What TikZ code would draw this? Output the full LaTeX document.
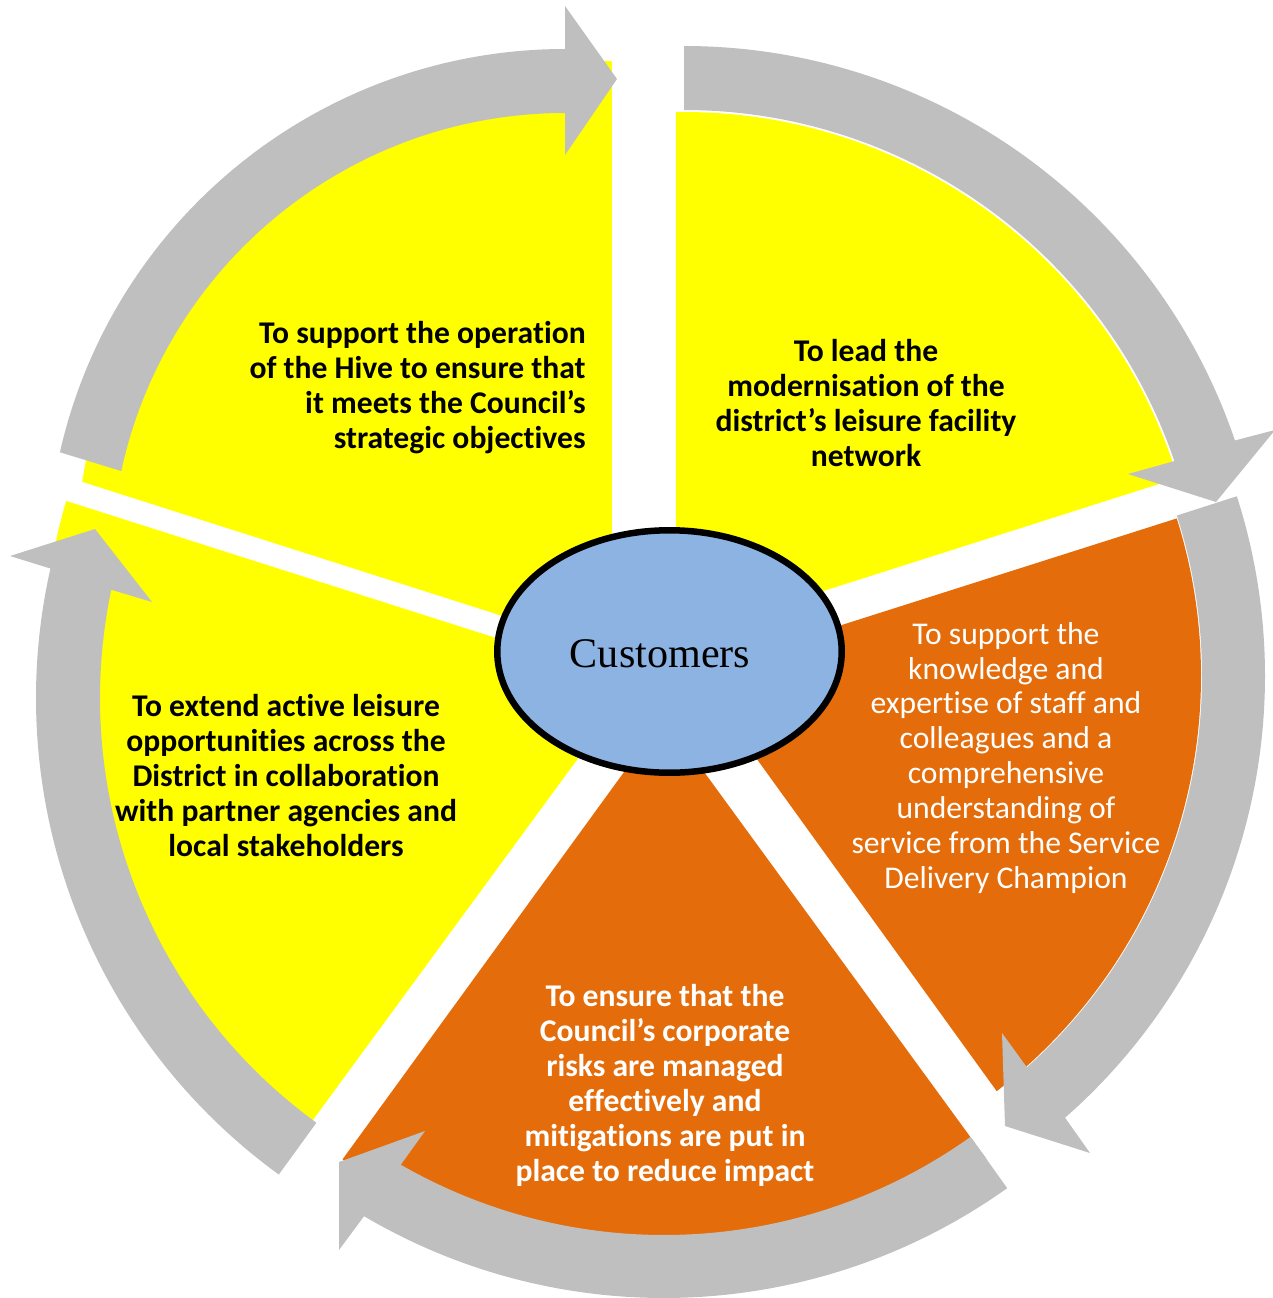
\documentclass[tikz,border=0pt]{standalone}
\usepackage{fontspec}
\setmainfont{Carlito}[Ligatures={NoCommon}]
\newfontfamily\hubfont{Liberation Serif}
\usepackage{tikz}
\usetikzlibrary{shapes.geometric}
\definecolor{segyellow}{HTML}{FFFF00}
\definecolor{segorange}{HTML}{E46C0A}
\definecolor{ringgray}{HTML}{BFBFBF}
\definecolor{hubblue}{HTML}{8DB3E2}
\tikzset{
    segment/.style={fill=#1},
    ringarrow/.style={fill=ringgray},
    goal/.style={
            inner sep=0pt,
            align=center,
            font=\fontsize{18}{19.9}\selectfont\bfseries
        },
    goal/light/.style={
            goal,
            text=white,
            font=\fontsize{18}{19.9}\selectfont
        },
    hub/.style={
            ellipse,
            draw=black,
            line width=0.13cm,
            fill=hubblue,
            minimum width=6.89cm,
            minimum height=4.85cm
        }
}

\begin{document}
\begin{tikzpicture}[x=0.02cm, y=0.02cm]
        \useasboundingbox (0,0) rectangle (1273,-1298);

        \fill[segment=segyellow] (676,-638) -- ([shift={(90.9:516)}]684,-628) arc[start angle=90.9, end angle=16.9, radius=516] -- cycle;
        \fill[segment=segorange] (694,-672) -- ([shift={(17.5:524)}]677,-676) arc[start angle=17.5, end angle=-52.4, radius=524] -- cycle;
        \fill[segment=segorange] (664,-717) -- ([shift={(-54.5:555)}]664,-707) arc[start angle=-54.5, end angle=-125.4, radius=555] -- cycle;
        \fill[segment=segyellow] (634,-682) -- ([shift={(163.5:539)}]583,-654) arc[start angle=163.5, end angle=239.9, radius=539] -- cycle;
        \fill[segment=segyellow] (612,-651) -- ([shift={(85.9:500)}]576,-560) arc[start angle=85.9, end angle=171, radius=500] -- cycle;

        \fill[ringarrow] ([shift={(167.2:518)}]565,-567) arc[start angle=167.2, end angle=90, radius=518]
        -- (565,-6) -- (617,-79) -- (565,-155)
        -- (565,-113) arc[start angle=90, end angle=167.8, radius=454] -- cycle;
        \fill[ringarrow] (684,-46) arc[start angle=90, end angle=18.8, radius=582]
        -- (1275,-430) -- (1216,-502) -- (1128,-474)
        -- ([shift={(18.8:518)}]684,-628) arc[start angle=18.8, end angle=90, radius=518] -- cycle;
        \fill[ringarrow] ([shift={(17.8:588)}]677,-676) arc[start angle=17.8, end angle=-48.7, radius=588]
        -- (1090,-1153) -- (1005,-1126) -- (1002,-1033)
        -- ([shift={(-48.2:525)}]677,-676) arc[start angle=-48.2, end angle=17.8, radius=525] -- cycle;
        \fill[ringarrow] ([shift={(-54.5:591)}]664,-707) arc[start angle=-54.5, end angle=-120.5, radius=591]
        -- (339,-1250) -- (339,-1162) -- (425,-1131)
        -- ([shift={(-119.9:528)}]664,-707) arc[start angle=-119.9, end angle=-54.5, radius=528] -- cycle;
        \fill[ringarrow] ([shift={(234:589)}]625,-698) arc[start angle=234, end angle=167.3, radius=589]
        -- (10,-556) -- (95,-529) -- (152,-602)
        -- ([shift={(168.1:525)}]625,-698) arc[start angle=168.1, end angle=234, radius=525] -- cycle;

        \node[hub] (hub) at (669.5,-651.5) {};
        \node[font=\hubfont\fontsize{24}{28}\selectfont, inner sep=0pt] (customers) at (660,-654) {Customers};

        \node[goal, align=right, anchor=east] (hive) at (586,-387.5) {To support the operation\\of the Hive to ensure that\\it meets the Council’s\\strategic objectives};
        \node[goal] (modern) at (866,-403) {To lead the\\modernisation of the\\district’s leisure facility\\network};
        \node[goal/light] (staff) at (1006,-758) {To support the\\knowledge and\\expertise of staff and\\colleagues and a\\comprehensive\\understanding of\\service from the Service\\Delivery Champion};
        \node[goal, text=white] (risks) at (665,-1085.5) {To ensure that the\\Council’s corporate\\risks are managed\\effectively and\\mitigations are put in\\place to reduce impact};
        \node[goal] (active) at (286,-775.5) {To extend active leisure\\opportunities across the\\District in collaboration\\with partner agencies and\\local stakeholders};

    \end{tikzpicture}
\end{document}
